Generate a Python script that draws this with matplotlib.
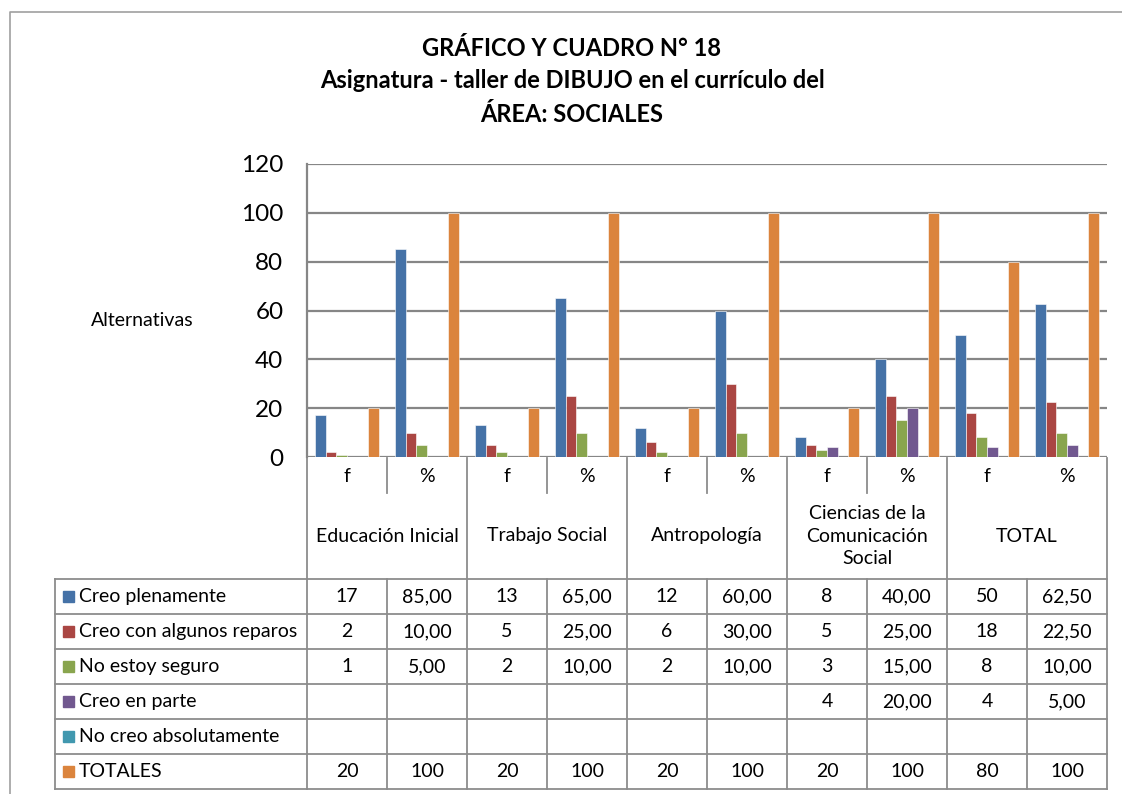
import numpy as np
import matplotlib
matplotlib.use("Agg")
import matplotlib.pyplot as plt
from matplotlib import transforms
from matplotlib.lines import Line2D
from matplotlib.patches import Rectangle

plt.rcParams['font.family'] = ['Lato', 'DejaVu Sans']

# data
groups = ['Educación Inicial', 'Trabajo Social', 'Antropología',
          'Ciencias de la\nComunicación\nSocial', 'TOTAL']
sub_labels = ['f', '%'] * 5
series_names = ['Creo plenamente', 'Creo con algunos reparos', 'No estoy seguro',
                'Creo en parte', 'No creo absolutamente', 'TOTALES']
creo_plenamente = [17, 85, 13, 65, 12, 60, 8, 40, 50, 62.5]
creo_reparos = [2, 10, 5, 25, 6, 30, 5, 25, 18, 22.5]
no_seguro = [1, 5, 2, 10, 2, 10, 3, 15, 8, 10]
creo_parte = [None, None, None, None, None, None, 4, 20, 4, 5]
no_creo = [None] * 10
totales = [20, 100, 20, 100, 20, 100, 20, 100, 80, 100]
series = [creo_plenamente, creo_reparos, no_seguro, creo_parte, no_creo, totales]
colors = ['#4572A7', '#AA4643', '#89A54E', '#71588F', '#4198AF', '#DB843D']

W, H = 1122, 794
fig = plt.figure(figsize=(W / 100, H / 100), dpi=100)

def fx(px):
    return px / W

def fy(py):
    return 1 - py / H

# overlay in pixel coordinates (y down)
ov = fig.add_axes([0, 0, 1, 1], zorder=0)
ov.set_xlim(0, W)
ov.set_ylim(H, 0)
ov.axis('off')

# main plot
ax = fig.add_axes([fx(307), fy(457), fx(1107) - fx(307), fy(164) - fy(457)], zorder=2)
ax.set_facecolor('none')
n = len(sub_labels)
bw = 0.1325
x = np.arange(n)
for k, (vals, c) in enumerate(zip(series, colors)):
    h = [0 if v is None else v for v in vals]
    ax.bar(x + 0.5 + (k - 2.5) * bw, h, bw, color=c, edgecolor='white',
           linewidth=0.4, zorder=3)
ax.set_xlim(0, n)
ax.set_ylim(0, 120)
ax.set_yticks(range(0, 121, 20))
ax.set_xticks([])
ax.yaxis.grid(True, color='#868686', linewidth=1.6, zorder=0)
ax.set_axisbelow(True)
for s in ['top', 'right', 'bottom']:
    ax.spines[s].set_visible(False)
ax.spines['left'].set_color('#868686')
ax.spines['left'].set_linewidth(1.6)
ax.tick_params(axis='y', length=0, pad=17, labelsize=17.5)

# titles
tsize = 17
fig.text(fx(572), fy(48), 'GRÁFICO Y CUADRO N° 18', ha='center', va='center',
         fontsize=tsize, fontweight='bold')
fig.text(fx(572), fy(81), 'Asignatura - taller de DIBUJO en el currículo del',
         ha='center', va='center', fontsize=tsize, fontweight='bold')
fig.text(fx(572), fy(114), 'ÁREA: SOCIALES', ha='center', va='center',
         fontsize=tsize, fontweight='bold')
fig.text(fx(142), fy(321), 'Alternativas', ha='center', va='center', fontsize=14)

# outer chart border
ov.add_line(Line2D([10, 10, W], [H, 12, 12], color='#a0a0a0', linewidth=1.2))

# data table (x in category units, y in pixels)
tr = transforms.blended_transform_factory(ax.transData, ov.transData)
lc = '#8c8c8c'
lw = 1.3
fs = 14
y_axis, y_sub, y_rows = 458, 493, 579
row_h = 35
y_end = y_rows + row_h * len(series)

def vline(xv, y0, y1):
    ov.add_line(Line2D([xv, xv], [y0, y1], color=lc, linewidth=lw, transform=tr))

def hline(y):
    ov.add_line(Line2D([0, n], [y, y], color=lc, linewidth=lw, transform=tr))
    ov.add_line(Line2D([55, 307], [y, y], color=lc, linewidth=lw))

# category sub labels
for i, lab in enumerate(sub_labels):
    ov.text(i + 0.5, 476, lab, transform=tr, ha='center', va='center', fontsize=fs)
    if i % 2 == 1 and i < n - 1:
        vline(i, y_axis, y_sub)
for g, lab in enumerate(groups):
    ov.text(2 * g + 1, 536, lab, transform=tr, ha='center', va='center',
            fontsize=fs, linespacing=1.4)
for i in range(0, n + 1, 2):
    vline(i, y_axis, y_end)
for i in range(1, n, 2):
    vline(i, y_rows, y_end)
ov.add_line(Line2D([55, 55], [y_rows, y_end], color=lc, linewidth=lw))
for r in range(len(series) + 1):
    hline(y_rows + r * row_h)

for r, (name, vals, c) in enumerate(zip(series_names, series, colors)):
    yc = y_rows + r * row_h + row_h / 2
    ov.add_patch(Rectangle((63, yc - 5.5), 11, 11, color=c))
    ov.text(79, yc, name, ha='left', va='center', fontsize=fs)
    for i, v in enumerate(vals):
        if v is None:
            continue
        if i % 2 == 0 or name == 'TOTALES':
            s = f'{v:g}'
        else:
            s = f'{v:.2f}'.replace('.', ',')
        ov.text(i + 0.5, yc, s, transform=tr, ha='center', va='center', fontsize=fs)

fig.savefig('out.png', dpi=100)
